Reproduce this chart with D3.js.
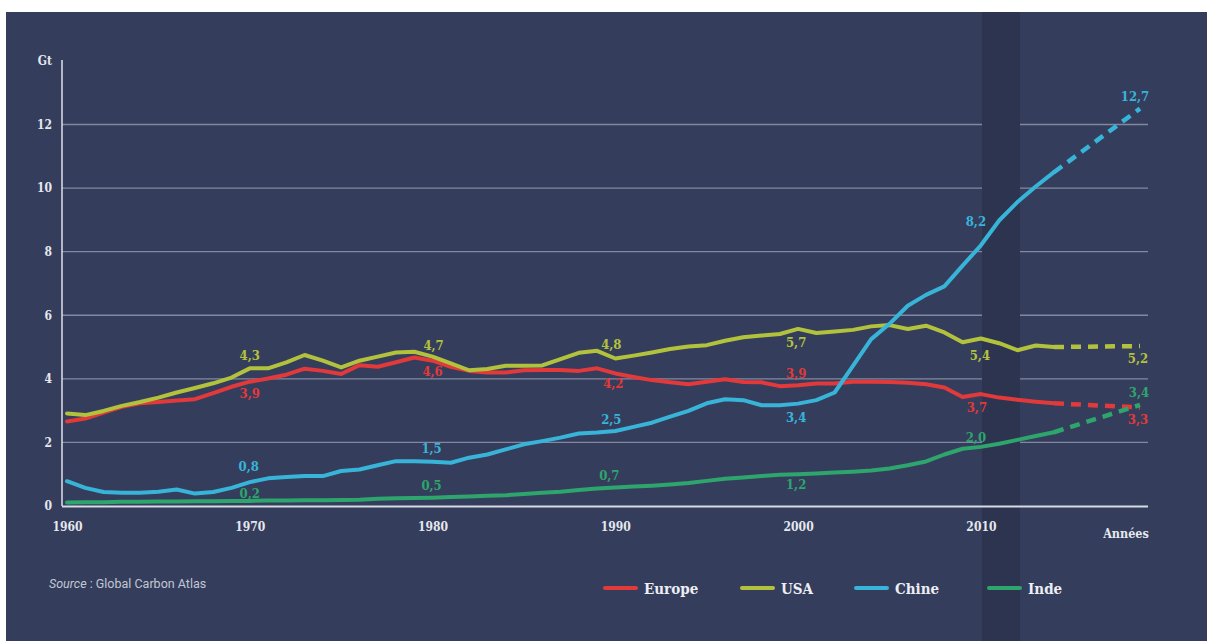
<!DOCTYPE html>
<html><head><meta charset="utf-8">
<script src="https://cdn.jsdelivr.net/npm/d3@7/dist/d3.min.js"></script>
<style>
html,body{margin:0;padding:0;background:#fff;}
svg{display:block;}
</style></head>
<body><svg id="c" width="1207" height="641"></svg>
<script>
// ---------- DATA ----------
const startYear = 1960;
const years = d3.range(1960, 2015);
const europe = [2.66,2.75,2.94,3.12,3.23,3.27,3.32,3.36,3.55,3.75,
  3.91,4.01,4.13,4.32,4.25,4.15,4.43,4.38,4.52,4.67,
  4.57,4.38,4.25,4.20,4.20,4.27,4.28,4.28,4.25,4.33,
  4.17,4.06,3.96,3.89,3.83,3.91,3.99,3.90,3.89,3.77,
  3.80,3.85,3.85,3.91,3.91,3.90,3.88,3.83,3.73,3.43,
  3.52,3.41,3.34,3.28,3.23];
const usa = [2.91,2.86,2.99,3.15,3.27,3.41,3.57,3.71,3.86,4.04,
  4.33,4.33,4.52,4.75,4.57,4.36,4.57,4.70,4.83,4.85,
  4.70,4.49,4.27,4.31,4.41,4.41,4.42,4.62,4.82,4.88,
  4.64,4.73,4.83,4.94,5.02,5.06,5.20,5.31,5.36,5.41,
  5.57,5.44,5.49,5.54,5.65,5.69,5.57,5.67,5.46,5.15,
  5.27,5.12,4.90,5.05,5.00];
const chine = [0.78,0.57,0.44,0.42,0.42,0.45,0.52,0.39,0.44,0.57,
  0.75,0.87,0.91,0.94,0.94,1.10,1.15,1.28,1.41,1.41,
  1.39,1.36,1.52,1.62,1.78,1.94,2.04,2.15,2.28,2.31,
  2.36,2.49,2.62,2.81,2.99,3.23,3.36,3.33,3.17,3.17,
  3.22,3.33,3.57,4.41,5.25,5.73,6.30,6.64,6.91,7.56,
  8.20,8.98,9.56,10.05,10.50];
const inde = [0.11,0.12,0.12,0.13,0.13,0.14,0.14,0.15,0.15,0.16,
  0.16,0.17,0.17,0.18,0.18,0.19,0.20,0.23,0.24,0.25,
  0.26,0.28,0.30,0.32,0.34,0.38,0.42,0.45,0.50,0.55,
  0.58,0.61,0.64,0.68,0.72,0.79,0.86,0.90,0.94,0.98,
  1.00,1.02,1.05,1.08,1.12,1.18,1.28,1.40,1.62,1.80,
  1.86,1.96,2.08,2.20,2.32];
const projYears = [2014, 2030];
const projEurope = [3.23, 3.10];
const projUsa = [5.00, 5.03];
const projChine = [10.50, 12.50];
const projInde = [2.32, 3.18];

const seriesNames = ["Europe", "USA", "Chine", "Inde"];
const yTicks = [0, 2, 4, 6, 8, 10, 12];
const xTicks = [1960, 1970, 1980, 1990, 2000, 2010];

// value labels: series, year, text
const labelSeries = ["Europe","Europe","Europe","Europe","Europe","Europe",
  "USA","USA","USA","USA","USA","USA",
  "Chine","Chine","Chine","Chine","Chine","Chine",
  "Inde","Inde","Inde","Inde","Inde","Inde"];
const labelYears = [1970,1980,1990,2000,2010,2030, 1970,1980,1990,2000,2010,2030,
  1970,1980,1990,2000,2010,2030, 1970,1980,1990,2000,2010,2030];
const labelTexts = ["3,9","4,6","4,2","3,9","3,7","3,3",
  "4,3","4,7","4,8","5,7","5,4","5,2",
  "0,8","1,5","2,5","3,4","8,2","12,7",
  "0,2","0,5","0,7","1,2","2,0","3,4"];

// ---------- STYLE / LAYOUT ----------
const colors = {Europe:"#e2393b", USA:"#b3c23c", Chine:"#38b4d9", Inde:"#2ea56d"};
const serieData = {Europe:europe, USA:usa, Chine:chine, Inde:inde};
const serieProj = {Europe:projEurope, USA:projUsa, Chine:projChine, Inde:projInde};
// label pixel offsets (dx, dy) from the series point
const labelOffsets = [[0,12],[0,11],[-2,10],[-2,-12],[-4,13],[-2,12],
  [0,-13],[1,-11],[-4,-14],[-2,13],[-1,17],[-2,12],
  [-1,-16],[-1,-13],[-4,-12],[-2,14],[-5,-24],[-5,-12],
  [0,-8],[-1,-12],[-6,-12],[-2,10],[-5,-10],[-1,-13]];

const serif = "'DejaVu Serif Condensed','DejaVu Serif',serif";
const svg = d3.select("#c");

// background
svg.append("rect").attr("x",6).attr("y",12).attr("width",1201).attr("height",629).attr("fill","#343d5c");

const x = d3.scaleLinear().domain([1960, 2014, 2030]).range([67, 1054, 1140]);
const y = d3.scaleLinear().domain([0, 12]).range([506, 124.5]);

// gridlines
svg.append("g").selectAll("line").data(yTicks.filter(d=>d>0)).join("line")
  .attr("x1",62).attr("x2",1148).attr("y1",d=>y(d)).attr("y2",d=>y(d))
  .attr("stroke","#8f96ad").attr("stroke-width",1.3).attr("opacity",0.85);

// fold band (scan artefact)
svg.append("rect").attr("x",982).attr("y",12).attr("width",38).attr("height",629).attr("fill","#2c3450");

// y axis
const yAxis = d3.axisLeft(y).tickValues(yTicks).tickSize(0).tickPadding(10).tickFormat(d3.format("d"));
const gy = svg.append("g").attr("transform","translate(62,0)").call(yAxis);
gy.select(".domain").remove();
gy.selectAll("text").attr("fill","#e6e8ee").style("font-family",serif).style("font-weight","bold").style("font-size","12px");
svg.append("line").attr("x1",62).attr("x2",62).attr("y1",60).attr("y2",506).attr("stroke","#d5d8e2").attr("stroke-width",1.6);
svg.append("text").attr("x",52).attr("y",65).attr("text-anchor","end").text("Gt")
  .attr("fill","#e6e8ee").style("font-family",serif).style("font-weight","bold").style("font-size","12px");

// x axis
const xAxis = d3.axisBottom(x).tickValues(xTicks).tickSize(0).tickPadding(16).tickFormat(d3.format("d"));
const gx = svg.append("g").attr("transform","translate(0,506)").call(xAxis);
gx.select(".domain").remove();
gx.selectAll("text").attr("fill","#e6e8ee").style("font-family",serif).style("font-weight","bold").style("font-size","12px");
svg.append("line").attr("x1",62).attr("x2",1148).attr("y1",506.5).attr("y2",506.5).attr("stroke","#d8dbe4").attr("stroke-width",2);
svg.append("text").attr("x",1126).attr("y",538).attr("text-anchor","middle").text("Années")
  .attr("fill","#e6e8ee").style("font-family",serif).style("font-weight","bold").style("font-size","12.5px");

// lines
const line = d3.line().x(d=>x(d[0])).y(d=>y(d[1]));
seriesNames.forEach(name=>{
  const pts = years.map((yr,i)=>[yr, serieData[name][i]]);
  svg.append("path").datum(pts).attr("d",line).attr("fill","none")
    .attr("stroke",colors[name]).attr("stroke-width",4).attr("stroke-linejoin","round").attr("stroke-linecap","round");
  const pp = projYears.map((yr,i)=>[yr, serieProj[name][i]]);
  svg.append("path").datum(pp).attr("d",line).attr("fill","none")
    .attr("stroke",colors[name]).attr("stroke-width",4.5).attr("stroke-dasharray","10,7");
});

// value labels
function valueAt(name, yr){
  const i = years.indexOf(yr);
  if (i >= 0) return serieData[name][i];
  const j = projYears.indexOf(yr);
  return serieProj[name][j];
}
svg.append("g").selectAll("text").data(labelTexts).join("text")
  .attr("x",(d,i)=>x(labelYears[i]) + labelOffsets[i][0])
  .attr("y",(d,i)=>y(valueAt(labelSeries[i], labelYears[i])) + labelOffsets[i][1])
  .attr("dy","0.36em").attr("text-anchor","middle")
  .attr("fill",(d,i)=>colors[labelSeries[i]])
  .style("font-family",serif).style("font-weight","bold").style("font-size","13px")
  .text(d=>d);

// source
const src = svg.append("text").attr("x",49).attr("y",588).attr("fill","#c3c7d3")
  .style("font-family","Roboto, 'Open Sans', sans-serif").style("font-size","12.5px");
src.append("tspan").style("font-style","italic").text("Source");
src.append("tspan").text(" : Global Carbon Atlas");

// legend
const legX = {Europe:605, USA:742, Chine:856, Inde:989};
seriesNames.forEach(name=>{
  svg.append("line").attr("x1",legX[name]).attr("x2",legX[name]+31).attr("y1",588).attr("y2",588)
    .attr("stroke",colors[name]).attr("stroke-width",4).attr("stroke-linecap","round");
  svg.append("text").attr("x",legX[name]+39).attr("y",594).text(name)
    .attr("fill","#eceef3").style("font-family",serif).style("font-weight","bold").style("font-size","15px");
});
</script></body></html>
